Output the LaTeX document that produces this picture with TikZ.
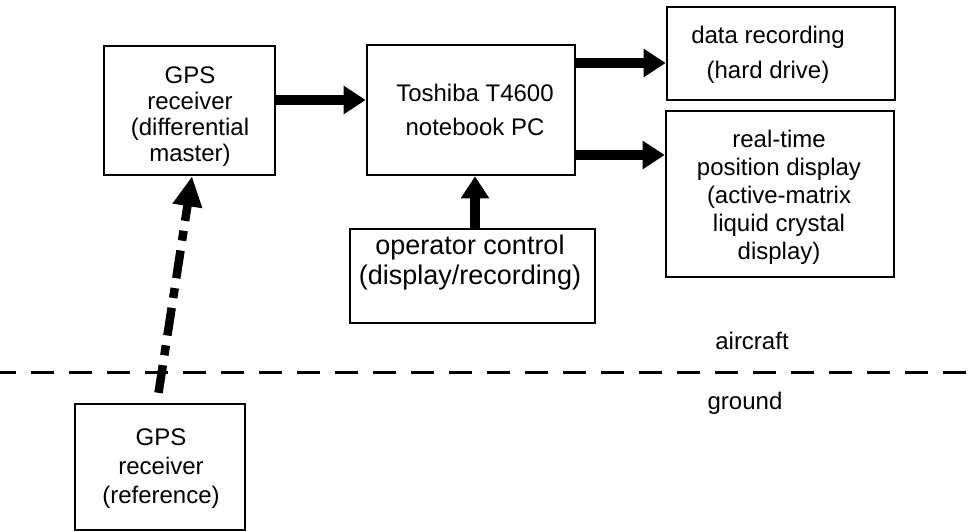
\documentclass[tikz,border=0pt]{standalone}
\usepackage{fontspec}
\setmainfont{Liberation Sans}
\usetikzlibrary{arrows.meta}
\begin{document}
\begin{tikzpicture}[x=1pt,y=-1pt,
  box/.style={draw, rectangle, line width=2.6pt, inner sep=0pt},
  txt/.style={align=center, inner sep=0pt, font=\fontsize{24pt}{#1}\selectfont},
  lbl/.style={inner sep=0pt, font=\fontsize{24pt}{28pt}\selectfont},
  fat/.style={line width=10pt, -{Triangle[length=22pt,width=27pt]}},
  radiolink/.style={line width=8.5pt, dash pattern=on 28pt off 10pt on 10pt off 10pt,
    dash phase=48pt, -{Triangle[length=30pt,width=28pt]}},
  separator/.style={line width=3pt, dash pattern=on 23pt off 15pt}]
  % canvas
  \fill[white] (0,0) rectangle (972,532);
  \useasboundingbox (0,0) rectangle (972,532);

  % aircraft equipment
  \node[box, minimum width=171pt, minimum height=129pt] (master) at (189.5,110.5) {};
  \node[txt=26pt] (mastertext) at (190,117) {GPS\\receiver\\(differential\\master)};

  \node[box, minimum width=208pt, minimum height=130pt] (pc) at (471,110) {};
  \node[txt=34pt] (pctext) at (475,110) {Toshiba T4600\\notebook PC};

  \node[box, minimum width=228pt, minimum height=93pt] (rec) at (781,53.5) {};
  \node[txt=35pt] (rectext) at (768,55) {data recording\\(hard drive)};

  \node[box, minimum width=228pt, minimum height=166pt] (disp) at (780,194) {};
  \node[txt=28pt] (disptext) at (779,197) {real-time\\position display\\(active-matrix\\liquid crystal\\display)};

  \node[box, minimum width=245pt, minimum height=94pt] (op) at (472.5,276) {};
  \node[txt=30pt, font=\fontsize{27pt}{30pt}\selectfont] (optext) at (470,263) {operator control\\(display/recording)};

  % ground equipment
  \node[box, minimum width=170pt, minimum height=126pt] (ref) at (160,467) {};
  \node[txt=29pt] (reftext) at (161,469) {GPS\\receiver\\(reference)};

  % aircraft / ground boundary
  \coordinate (sepL) at (-7,372);
  \coordinate (sepR) at (980,372);
  \draw[separator] (sepL) -- (sepR);
  \node[lbl] (air) at (752,341) {aircraft};
  \node[lbl] (gnd) at (745,403) {ground};

  % data flow
  \draw[fat] ([yshift=10.5pt]master.east) -- ([yshift=10.5pt]master.east -| pc.west);
  \draw[fat] ([yshift=47pt]pc.east) -- ([yshift=47pt]pc.east -| rec.west);
  \draw[fat] ([yshift=-45pt]pc.east) -- ([yshift=-45pt]pc.east -| disp.west);
  \draw[fat] ([xshift=2.5pt]op.north) -- ([xshift=2.5pt]op.north |- pc.south);
  \draw[radiolink] ([xshift=-3pt]ref.north) -- ([xshift=2.5pt]master.south);
\end{tikzpicture}
\end{document}
